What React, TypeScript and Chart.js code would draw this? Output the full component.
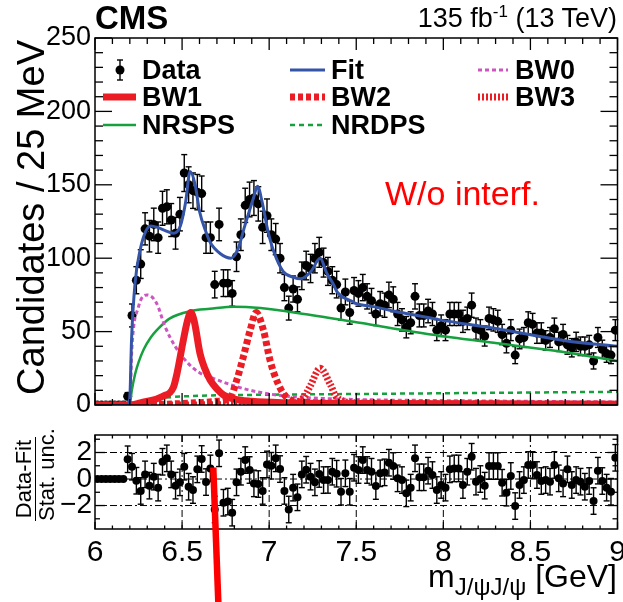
import React, { useEffect, useRef } from "react";
import { Chart, registerables } from "chart.js";

Chart.register(...registerables);

// ---------------- data ----------------
const X_MIN = 6.0;
const X_MAX = 9.0;
const BIN_WIDTH = 0.025;

// candidates per 25 MeV bin, 6.0 -> 9.0 GeV (120 bins)
const counts = [
  0, 0, 0, 0, 0, 0, 0, 6, 61, 85,
  96, 120, 115, 123, 114, 134, 135, 126, 117, 130,
  158, 150, 146, 145, 144, 114, 114, 82, 123, 83,
  83, 76, 101, 116, 136, 140, 141, 137, 121, 129,
  116, 113, 100, 80, 66, 79, 72, 88, 95, 93,
  100, 104, 97, 91, 85, 82, 66, 77, 63, 78,
  76, 80, 74, 71, 62, 69, 68, 75, 72, 62,
  58, 53, 56, 74, 61, 61, 64, 62, 51, 54,
  51, 62, 62, 62, 57, 59, 68, 52, 51, 47,
  59, 58, 57, 48, 42, 51, 34, 45, 46, 56,
  55, 49, 49, 44, 46, 52, 43, 48, 41, 39,
  43, 40, 40, 41, 30, 46, 38, 35, 34, 51,
];

// (Data-Fit)/Stat. unc. per bin
const pulls = [
  0, 0, 0, 0, 0, 0, 0, 1.49, 0.93, -0.13,
  -0.9, 0.35, -0.5, 0.18, -0.65, 1.3, 1.56, 0.35, -0.5, -0.25,
  0.93, -0.58, -0.83, 0.73, 1.51, -0.23, 0.8, -2.3, 1.94, -1.79,
  -1.7, -2.54, -0.25, 0.55, 1.43, 0.68, -0.33, -0.38, -0.9, 1.1,
  1.0, 1.56, 0.75, -0.9, -2.3, -0.65, -1.38, 0.35, 0.7, 0.18,
  -0.25, 0.38, -0.08, -0.07, 0.55, 0.4, -0.96, 0.43, -0.96, 0.85,
  0.68, 1.43, 0.68, 0.55, -0.53, 0.43, 0.5, 1.23, 0.98, 0.05,
  -0.08, -1.08, -0.65, 1.56, 0.13, 0.13, 0.63, 0.3, -0.83, -0.45,
  -0.65, 0.73, 0.8, 0.8, -0.45, 0.55, 1.68, -0.2, 0, -0.5,
  0.98, 0.98, 0.98, -0.28, -1.03, 0.23, -2.04, -0.45, -0.08, 1.06,
  1.06, 0.3, -0.15, -0.08, -0.2, 1.06, 0.05, -0.33, 0.73, -0.45,
  -0.08, -0.2, -0.58, -0.15, -1.66, 0.63, -0.15, -0.65, -0.96, 1.6,
];

// fit and components
const fitX = [6.0, 6.19, 6.2, 6.21, 6.23, 6.26, 6.29, 6.32, 6.36, 6.4, 6.45, 6.49, 6.52, 6.546, 6.575, 6.6, 6.64, 6.66, 6.72, 6.78, 6.82, 6.86, 6.91, 6.933, 6.96, 6.99, 7.025, 7.08, 7.14, 7.18, 7.24, 7.293, 7.33, 7.37, 7.39, 7.43, 7.47, 7.5, 7.6, 7.71, 7.85, 7.98, 8.31, 8.69, 9.0];
const fitY = [0, 0, 5, 45, 83, 106, 118, 122, 121, 119, 117, 122, 138, 159, 150, 132, 117, 111, 103, 100, 106, 122, 141, 149, 138, 120, 105, 91, 87, 86, 91, 100, 90, 82, 77, 73, 71, 69, 67, 64, 61, 58, 52, 44, 40];

const bw0X = [6.0, 6.2, 6.211, 6.25, 6.3, 6.355, 6.4, 6.46, 6.53, 6.6, 6.66, 6.8, 6.93, 7.1, 7.3, 7.6, 8.0, 9.0];
const bw0Y = [0, 0, 37, 67, 75, 69, 54, 40, 29, 22, 19, 13, 9, 6, 4.5, 3.5, 3, 2];

const bw1X = [6.0, 6.2, 6.26, 6.39, 6.45, 6.47, 6.507, 6.53, 6.55, 6.57, 6.603, 6.63, 6.661, 6.7, 6.736, 6.8, 6.9, 7.1, 7.5, 9.0];
const bw1Y = [0, 0, 1.5, 6, 12, 21, 44, 57, 63, 57, 35, 25, 17, 11, 7, 4, 2.5, 1.5, 1, 0.5];

const bw2X = [6.0, 6.2, 6.5, 6.7, 6.776, 6.814, 6.852, 6.891, 6.925, 6.967, 7.006, 7.053, 7.102, 7.2, 7.5, 9.0];
const bw2Y = [0, 0, 1, 2.5, 5, 17, 33, 51, 63, 51, 30, 14, 5, 2, 1, 0.5];

const bw3X = [6.0, 6.2, 7.1, 7.197, 7.236, 7.293, 7.351, 7.389, 7.5, 9.0];
const bw3Y = [0, 0, 1, 5, 13, 25, 14, 5, 1.5, 0.3];

const nrspsX = [6.0, 6.2, 6.21, 6.23, 6.25, 6.28, 6.32, 6.355, 6.43, 6.55, 6.66, 6.8, 6.95, 7.2, 7.52, 7.93, 8.31, 8.7, 9.0];
const nrspsY = [0, 0, 9, 21, 29, 38, 46, 51, 59, 64, 65.5, 67, 66, 62, 56, 48, 42, 36, 30];

const nrdpsX = [6.0, 6.2, 6.25, 6.3, 6.4, 6.6, 7.0, 7.5, 8.0, 8.5, 9.0];
const nrdpsY = [0, 0, 2, 3.5, 5, 6.3, 7, 7.5, 8, 8.5, 9];

const mainYTicks = [0, 50, 100, 150, 200, 250];
const ratioYTicks = [-2, 0, 2];
const xTicks = [6, 6.5, 7, 7.5, 8, 8.5, 9];
const ratioGridX = [6.5, 7, 7.5, 8, 8.5];

// ---------------- styles ----------------
const FONT = '"Liberation Sans", Arial, Helvetica, sans-serif';
const RED = "rgb(236,28,36)";
const BLUE = "rgb(52,84,168)";
const GREEN = "rgb(22,160,62)";
const MAGENTA = "rgb(205,85,190)";

const binCenters = counts.map((_, i) => X_MIN + BIN_WIDTH * (i + 0.5));
const zip = (xs: number[], ys: number[]) => xs.map((x, i) => ({ x, y: ys[i] }));

function curve(label: string, xs: number[], ys: number[], color: string, width: number, dash: number[], order: number) {
  return {
    label,
    data: zip(xs, ys),
    showLine: true,
    borderColor: color,
    borderWidth: width,
    borderDash: dash,
    pointRadius: 0,
    fill: false,
    cubicInterpolationMode: "monotone",
    borderJoinStyle: "round",
    order,
  };
}

function line(ctx: CanvasRenderingContext2D, x1: number, y1: number, x2: number, y2: number) {
  ctx.beginPath();
  ctx.moveTo(x1, y1);
  ctx.lineTo(x2, y2);
  ctx.stroke();
}

type FrameOpts = {
  xMajor: number; xMinor: number; xMajLen: number; xMinLen: number;
  yMin: number; yMax: number; yMajor: number; yMinor: number; yMajLen: number; yMinLen: number;
};

function drawFrame(chart: any, o: FrameOpts) {
  const { ctx, chartArea: a, scales } = chart;
  const xs = scales.x, ys = scales.y;
  ctx.save();
  ctx.strokeStyle = "#000";
  ctx.lineWidth = 1.5;
  ctx.strokeRect(a.left, a.top, a.right - a.left, a.bottom - a.top);
  ctx.lineWidth = 1.3;
  const nx = Math.round((X_MAX - X_MIN) / o.xMinor);
  for (let k = 0; k <= nx; k++) {
    const v = X_MIN + k * o.xMinor;
    const r = v / o.xMajor;
    const maj = Math.abs(r - Math.round(r)) < 1e-6;
    const len = maj ? o.xMajLen : o.xMinLen;
    const px = xs.getPixelForValue(v);
    line(ctx, px, a.bottom, px, a.bottom - len);
    line(ctx, px, a.top, px, a.top + len);
  }
  const start = Math.ceil(o.yMin / o.yMinor - 1e-9);
  const end = Math.floor(o.yMax / o.yMinor + 1e-9);
  for (let k = start; k <= end; k++) {
    const v = k * o.yMinor;
    const r = v / o.yMajor;
    const maj = Math.abs(r - Math.round(r)) < 1e-6;
    const len = maj ? o.yMajLen : o.yMinLen;
    const py = ys.getPixelForValue(v);
    line(ctx, a.left, py, a.left + len, py);
    line(ctx, a.right, py, a.right - len, py);
  }
  ctx.restore();
}

function drawErrorBars(chart: any, index: number, errOf: (i: number) => number, cap: number) {
  const { ctx, scales } = chart;
  const meta = chart.getDatasetMeta(index);
  const ds = chart.data.datasets[index];
  ctx.save();
  ctx.strokeStyle = "#000";
  ctx.lineWidth = 1.4;
  meta.data.forEach((pt: any, i: number) => {
    const e = errOf(i);
    if (!(e > 0)) return;
    const v = ds.data[i].y;
    const yTop = scales.y.getPixelForValue(v + e);
    const yBot = scales.y.getPixelForValue(v - e);
    line(ctx, pt.x, yTop, pt.x, yBot);
    line(ctx, pt.x - cap, yTop, pt.x + cap, yTop);
    line(ctx, pt.x - cap, yBot, pt.x + cap, yBot);
  });
  ctx.restore();
}

function drawLegendSymbols(ctx: CanvasRenderingContext2D) {
  ctx.save();
  // Data
  ctx.strokeStyle = "#000";
  ctx.lineWidth = 1.4;
  line(ctx, 120, 60, 120, 80);
  line(ctx, 117, 60, 123, 60);
  line(ctx, 117, 80, 123, 80);
  ctx.fillStyle = "#000";
  ctx.beginPath();
  ctx.arc(120, 70, 4.5, 0, Math.PI * 2);
  ctx.fill();
  const seg = (x1: number, x2: number, y: number, color: string, w: number, dash: number[]) => {
    ctx.strokeStyle = color;
    ctx.lineWidth = w;
    ctx.setLineDash(dash);
    line(ctx, x1, y, x2, y);
    ctx.setLineDash([]);
  };
  seg(290, 325, 70, BLUE, 3, []);
  seg(478, 508, 70, MAGENTA, 3, [4, 3]);
  seg(103, 136, 97, RED, 7, []);
  seg(290, 325, 97, RED, 7, [5, 3]);
  seg(478, 508, 97, RED, 7, [2, 2]);
  seg(103, 136, 125, GREEN, 2.5, []);
  seg(290, 325, 125, GREEN, 2.5, [5, 4]);
  ctx.restore();
}

function mainConfig(): any {
  const dataIdx = 0;
  return {
    type: "scatter",
    data: {
      datasets: [
        {
          label: "Data",
          data: zip(binCenters, counts),
          showLine: false,
          pointRadius: 4.5,
          pointBackgroundColor: "#000",
          pointBorderWidth: 0,
          order: 10,
        },
        curve("NRSPS", nrspsX, nrspsY, GREEN, 2.5, [], 6),
        curve("NRDPS", nrdpsX, nrdpsY, GREEN, 2.5, [5, 4], 5),
        curve("BW0", bw0X, bw0Y, MAGENTA, 3, [4, 3], 4),
        curve("BW1", bw1X, bw1Y, RED, 7, [], 3),
        curve("BW2", bw2X, bw2Y, RED, 7, [5, 3], 2),
        curve("BW3", bw3X, bw3Y, RED, 7, [2, 2], 1),
        curve("Fit", fitX, fitY, BLUE, 3, [], 0),
      ],
    },
    options: {
      responsive: false,
      animation: false,
      events: [],
      plugins: { legend: { display: false }, tooltip: { enabled: false } },
      layout: { padding: { left: 0, right: 5.5, top: 38, bottom: 15 } },
      scales: {
        x: { type: "linear", min: X_MIN, max: X_MAX, display: false },
        y: {
          type: "linear",
          min: 0,
          max: 250,
          afterBuildTicks: (s: any) => { s.ticks = mainYTicks.map((v) => ({ value: v })); },
          afterFit: (s: any) => { s.width = 95; s.paddingTop = 0; s.paddingBottom = 0; },
          grid: { display: false, drawTicks: false },
          border: { display: false },
          ticks: { font: { family: FONT, size: 27 }, color: "#000", padding: 4 },
        },
      },
    },
    plugins: [
      {
        id: "mainDecor",
        beforeDatasetDraw(chart: any, args: any) {
          if (args.index === dataIdx) {
            drawErrorBars(chart, dataIdx, (i) => (counts[i] > 0 ? Math.sqrt(counts[i]) : 0), 3);
          }
        },
        afterDraw(chart: any) {
          drawFrame(chart, {
            xMajor: 0.5, xMinor: 0.1, xMajLen: 12, xMinLen: 6,
            yMin: 0, yMax: 250, yMajor: 50, yMinor: 10, yMajLen: 17, yMinLen: 8,
          });
          drawLegendSymbols(chart.ctx);
        },
      },
    ],
  };
}

function ratioConfig(): any {
  const dataIdx = 0;
  return {
    type: "scatter",
    data: {
      datasets: [
        {
          label: "Pull",
          data: zip(binCenters, pulls),
          showLine: false,
          pointRadius: 4,
          pointBackgroundColor: "#000",
          pointBorderWidth: 0,
        },
      ],
    },
    options: {
      responsive: false,
      animation: false,
      events: [],
      plugins: { legend: { display: false }, tooltip: { enabled: false } },
      layout: { padding: { left: 0, right: 5.5, top: 15, bottom: 0 } },
      scales: {
        x: {
          type: "linear",
          min: X_MIN,
          max: X_MAX,
          afterBuildTicks: (s: any) => { s.ticks = xTicks.map((v) => ({ value: v })); },
          afterFit: (s: any) => { s.height = 73; s.paddingLeft = 0; s.paddingRight = 0; },
          grid: { display: false, drawTicks: false },
          border: { display: false },
          ticks: {
            font: { family: FONT, size: 30 },
            color: "#000",
            padding: 6,
            maxRotation: 0,
            autoSkip: false,
            callback: (v: number) => String(Number(v)),
          },
        },
        y: {
          type: "linear",
          min: -3.77,
          max: 3.32,
          afterBuildTicks: (s: any) => { s.ticks = ratioYTicks.map((v) => ({ value: v })); },
          afterFit: (s: any) => { s.width = 95; s.paddingTop = 0; s.paddingBottom = 0; },
          grid: { display: false, drawTicks: false },
          border: { display: false },
          ticks: {
            font: { family: FONT, size: 28 },
            color: "#000",
            padding: 3,
            callback: (v: number) => (v < 0 ? "\u2212" + Math.abs(v) : String(v)),
          },
        },
      },
    },
    plugins: [
      {
        id: "ratioDecor",
        beforeDatasetsDraw(chart: any) {
          const { ctx, chartArea: a, scales } = chart;
          ctx.save();
          ctx.strokeStyle = "#000";
          ctx.lineWidth = 1;
          ctx.setLineDash([7, 3, 2, 3]);
          ratioYTicks.forEach((v) => {
            const py = scales.y.getPixelForValue(v);
            line(ctx, a.left, py, a.right, py);
          });
          ratioGridX.forEach((v) => {
            const px = scales.x.getPixelForValue(v);
            line(ctx, px, a.top, px, a.bottom);
          });
          ctx.restore();
        },
        beforeDatasetDraw(chart: any, args: any) {
          if (args.index === dataIdx) {
            drawErrorBars(chart, dataIdx, (i) => (counts[i] > 0 ? 1 : 0), 3);
          }
        },
        afterDraw(chart: any) {
          drawFrame(chart, {
            xMajor: 0.5, xMinor: 0.1, xMajLen: 7, xMinLen: 3.5,
            yMin: -3.77, yMax: 3.32, yMajor: 2, yMinor: 1, yMajLen: 10, yMinLen: 5,
          });
          // red annotation stroke overlaid on the figure
          const ctx = chart.ctx;
          ctx.save();
          ctx.strokeStyle = "rgb(255,0,0)";
          ctx.lineWidth = 6.5;
          line(ctx, 213.3, 47.5, 218.6, 190);
          ctx.restore();
        },
      },
    ],
  };
}

// ---------------- text helpers ----------------
const ASC = 0.8465; // baseline offset for line-height 1 (Liberation Sans)

function Txt(props: {
  x: number; base: number; size: number; bold?: boolean; color?: string; right?: boolean; children: any;
}) {
  const { x, base, size, bold, color, right, children } = props;
  const style: any = {
    position: "absolute",
    top: base - ASC * size,
    fontSize: size,
    lineHeight: 1,
    fontWeight: bold ? "bold" : "normal",
    color: color || "#000",
    whiteSpace: "nowrap",
    fontFamily: FONT,
  };
  if (right) style.right = 623 - x;
  else style.left = x;
  return <div style={style}>{children}</div>;
}

export default function App() {
  const mainRef = useRef<HTMLCanvasElement>(null);
  const ratioRef = useRef<HTMLCanvasElement>(null);

  useEffect(() => {
    const c1 = new Chart(mainRef.current as HTMLCanvasElement, mainConfig());
    const c2 = new Chart(ratioRef.current as HTMLCanvasElement, ratioConfig());
    return () => {
      c1.destroy();
      c2.destroy();
    };
  }, []);

  const legendSize = 27;
  return (
    <div
      style={{
        position: "fixed",
        left: 0,
        top: 0,
        width: 623,
        height: 602,
        background: "#fff",
        overflow: "hidden",
        fontFamily: FONT,
      }}
    >
      <canvas ref={mainRef} width={623} height={420} style={{ position: "absolute", left: 0, top: 0, width: 623, height: 420 }} />
      <canvas ref={ratioRef} width={623} height={182} style={{ position: "absolute", left: 0, top: 420, width: 623, height: 182 }} />

      <Txt x={95} base={29} size={33} bold>CMS</Txt>
      <Txt x={617} base={28} size={27} right>
        135 fb<sup style={{ fontSize: 17, verticalAlign: 10, lineHeight: 0 }}>-1</sup> (13 TeV)
      </Txt>

      <Txt x={142} base={80} size={legendSize} bold>Data</Txt>
      <Txt x={331} base={80} size={legendSize} bold>Fit</Txt>
      <Txt x={515} base={80} size={legendSize} bold>BW0</Txt>
      <Txt x={142} base={107} size={legendSize} bold>BW1</Txt>
      <Txt x={331} base={107} size={legendSize} bold>BW2</Txt>
      <Txt x={515} base={107} size={legendSize} bold>BW3</Txt>
      <Txt x={142} base={135} size={legendSize} bold>NRSPS</Txt>
      <Txt x={331} base={135} size={legendSize} bold>NRDPS</Txt>

      <Txt x={385} base={205} size={34} color="rgb(255,0,0)">W/o interf.</Txt>

      {/* main y-axis title */}
      <div
        style={{
          position: "absolute",
          left: 44 - ASC * 38,
          top: 440,
          width: 400,
          textAlign: "right",
          transformOrigin: "0 0",
          transform: "rotate(-90deg)",
          fontSize: 38,
          lineHeight: 1,
          whiteSpace: "nowrap",
          fontFamily: FONT,
        }}
      >
        Candidates / 25 MeV
      </div>

      {/* ratio y-axis title */}
      <div
        style={{
          position: "absolute",
          left: 13.4,
          top: 479 + 42,
          width: 84,
          textAlign: "center",
          transformOrigin: "0 0",
          transform: "rotate(-90deg)",
          fontSize: 22,
          lineHeight: 1,
          whiteSpace: "nowrap",
          fontFamily: FONT,
        }}
      >
        <div style={{ borderBottom: "1.5px solid #000" }}>Data-Fit</div>
        <div>Stat. unc.</div>
      </div>

      {/* x-axis title */}
      <div
        style={{
          position: "absolute",
          right: 6,
          top: 587 - ASC * 32,
          fontSize: 32,
          lineHeight: 1,
          whiteSpace: "nowrap",
          fontFamily: FONT,
        }}
      >
        m<span style={{ fontSize: 24, verticalAlign: -8 }}>J/ψJ/ψ</span> [GeV]
      </div>
    </div>
  );
}
